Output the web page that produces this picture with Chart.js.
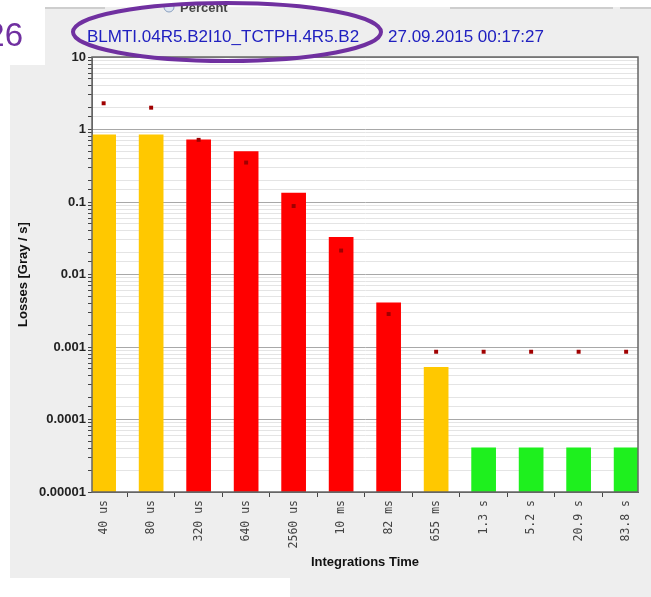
<!DOCTYPE html>
<html>
<head>
<meta charset="utf-8">
<script src="https://cdn.jsdelivr.net/npm/chart.js@4.4.1/dist/chart.umd.min.js"></script>
<style>
  html, body { margin: 0; padding: 0; background: #fff; }
  #chart { display: block; }
</style>
</head>
<body>
<canvas id="chart" width="651" height="597"></canvas>
<script>
const categories = ["40 us", "80 us", "320 us", "640 us", "2560 us", "10 ms", "82 ms", "655 ms", "1.3 s", "5.2 s", "20.9 s", "83.8 s"];
const losses = [0.85, 0.85, 0.73, 0.50, 0.134, 0.033, 0.0041, 0.00053, 0.000041, 0.000041, 0.000041, 0.000041];
const thresholds = [2.3, 2.0, 0.72, 0.35, 0.088, 0.0214, 0.00285, 0.00086, 0.00086, 0.00086, 0.00086, 0.00086];
const yTickLabels = [10, 1, 0.1, 0.01, 0.001, 0.0001, 0.00001];

const YELLOW = "#ffc800", RED = "#ff0000", GREEN = "#1ef01e";
const barColors = [YELLOW, YELLOW, RED, RED, RED, RED, RED, YELLOW, GREEN, GREEN, GREEN, GREEN];

const decadeOf = v => yTickLabels.find(d => Math.abs(v - d) / d < 1e-6);

// grey panel, slide number, header and the purple mark
const backdrop = {
  id: "backdrop",
  beforeDraw(chart) {
    const ctx = chart.ctx;
    const { left, top, right, bottom } = chart.chartArea;
    ctx.save();
    ctx.fillStyle = "#fff";
    ctx.fillRect(0, 0, 651, 597);
    ctx.fillStyle = "#eeeeee";
    ctx.beginPath();
    ctx.moveTo(45, 7);
    ctx.lineTo(651, 7);
    ctx.lineTo(651, 597);
    ctx.lineTo(290, 597);
    ctx.lineTo(290, 578);
    ctx.lineTo(10, 578);
    ctx.lineTo(10, 65);
    ctx.lineTo(45, 65);
    ctx.closePath();
    ctx.fill();
    ctx.strokeStyle = "#c4c4c4";
    ctx.lineWidth = 1.5;
    ctx.beginPath();
    ctx.moveTo(45, 8); ctx.lineTo(105, 8);
    ctx.moveTo(450, 8); ctx.lineTo(613, 8);
    ctx.moveTo(620, 8); ctx.lineTo(651, 8);
    ctx.stroke();

    // cut-off "Percent" radio button
    ctx.fillStyle = "#dde6f2";
    ctx.strokeStyle = "#8aa0c0";
    ctx.lineWidth = 1;
    ctx.beginPath();
    ctx.arc(169, 7, 5, 0, Math.PI * 2);
    ctx.fill();
    ctx.stroke();
    ctx.fillStyle = "#444";
    ctx.font = "bold 13px 'Liberation Sans', Arial, sans-serif";
    ctx.fillText("Percent", 180, 12, 48);
    ctx.fillStyle = "#fff";
    ctx.fillRect(0, 0, 651, 4);

    ctx.fillStyle = "#7030a0";
    ctx.font = "33px 'Liberation Sans', 'Noto Sans', sans-serif";
    ctx.textAlign = "right";
    ctx.textBaseline = "middle";
    ctx.fillText("26", 23, 37);

    ctx.fillStyle = "#2020c0";
    ctx.font = "17px 'Liberation Sans', Arial, sans-serif";
    ctx.textAlign = "left";
    ctx.fillText("BLMTI.04R5.B2I10_TCTPH.4R5.B2", 87, 37, 293);
    ctx.fillText("27.09.2015 00:17:27", 388, 37, 162);

    ctx.fillStyle = "#fff";
    ctx.fillRect(left, top, right - left, bottom - top);
    ctx.restore();
  },
  afterDraw(chart) {
    const ctx = chart.ctx;
    const { left, top, right, bottom } = chart.chartArea;
    ctx.save();
    ctx.strokeStyle = "#666";
    ctx.lineWidth = 1.5;
    ctx.strokeRect(left, top, right - left, bottom - top);
    ctx.strokeStyle = "#7030a0";
    ctx.lineWidth = 4;
    ctx.beginPath();
    ctx.ellipse(227, 32, 154, 29, 0, 0, Math.PI * 2);
    ctx.stroke();
    ctx.restore();
  }
};

new Chart(document.getElementById("chart"), {
  data: {
    datasets: [
      {
        type: "line",
        data: thresholds.map((v, i) => ({ x: i, y: v })),
        showLine: false,
        pointStyle: "rect",
        pointRadius: 2.8,
        pointBackgroundColor: "#a00000",
        pointBorderWidth: 0,
        order: 0
      },
      {
        type: "bar",
        data: losses.map((v, i) => ({ x: i, y: v })),
        backgroundColor: barColors,
        barPercentage: 0.52,
        categoryPercentage: 1,
        order: 1
      }
    ]
  },
  options: {
    responsive: false,
    animation: false,
    layout: { padding: { left: 12, top: 57, right: 13, bottom: 20 } },
    plugins: { legend: { display: false }, tooltip: { enabled: false } },
    scales: {
      x: {
        type: "linear",
        min: -0.245,
        max: 11.25,
        offset: false,
        grid: { drawOnChartArea: false, drawTicks: true, tickLength: 5, tickColor: "#444", offset: true },
        border: { color: "#666" },
        ticks: {
          stepSize: 1, includeBounds: false, maxTicksLimit: 20, autoSkip: false,
          minRotation: 90, maxRotation: 90, padding: 3,
          color: "#444",
          font: { family: "'DejaVu Sans Mono', monospace", size: 11.5 },
          callback: v => categories[v] ?? ""
        },
        title: {
          display: true, text: "Integrations Time", color: "#111",
          font: { family: "'Liberation Sans Narrow', 'Arial Narrow', 'Liberation Sans', sans-serif", size: 13, weight: "bold" },
          padding: { top: 4, bottom: 7 }
        },
        afterFit: s => { s.height = 85; }
      },
      y: {
        type: "logarithmic",
        min: 0.00001,
        max: 10,
        grid: {
          color: c => decadeOf(c.tick.value) ? "#a8a8a8" : "#e4e4e4",
          tickColor: "#444",
          tickLength: 4
        },
        border: { color: "#666" },
        ticks: {
          autoSkip: false,
          padding: 2,
          color: "#222",
          font: { family: "'Liberation Sans', Arial, sans-serif", size: 13, weight: "bold" },
          callback: v => { const d = decadeOf(v); return d ? String(d) : ""; }
        },
        title: {
          display: true, text: "Losses [Gray / s]", color: "#111",
          font: { family: "'Liberation Sans Narrow', 'Arial Narrow', 'Liberation Sans', sans-serif", size: 13, weight: "bold" },
          padding: { top: 4, bottom: 4 }
        },
        afterFit: s => { s.width = 80; }
      }
    }
  },
  plugins: [backdrop]
});
</script>
</body>
</html>
